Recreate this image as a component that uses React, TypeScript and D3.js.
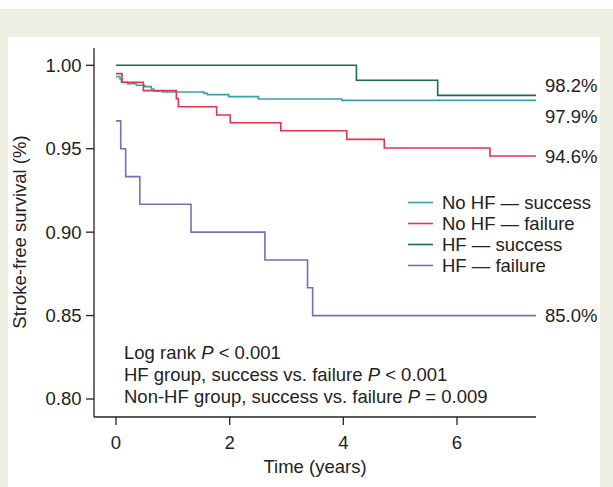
import React from "react";
import * as d3 from "d3";

const seriesNames = ["No HF — success", "No HF — failure", "HF — success", "HF — failure"];
const seriesColors = ["#3a9fa6", "#e5334b", "#1f6a4f", "#7c6cb8"];

const noHfSuccessT = [0, 0.07, 0.094, 0.199, 0.357, 0.505, 0.621, 0.664, 0.815, 1.549, 1.607, 1.984, 2.505, 3.974];
const noHfSuccessS = [0.9932, 0.9918, 0.9898, 0.989, 0.988, 0.9872, 0.9858, 0.9846, 0.984, 0.9832, 0.9824, 0.9812, 0.9798, 0.979];

const noHfFailureT = [0, 0.106, 0.481, 1.062, 1.097, 1.77, 2.01, 2.9, 4.06, 4.72, 6.58];
const noHfFailureS = [0.995, 0.9898, 0.9848, 0.98, 0.9752, 0.9702, 0.9656, 0.9608, 0.9556, 0.9504, 0.9456];

const hfSuccessT = [0, 4.23, 5.66];
const hfSuccessS = [1.0, 0.991, 0.982];

const hfFailureT = [0, 0.083, 0.17, 0.42, 1.32, 2.62, 3.37, 3.46];
const hfFailureS = [0.9667, 0.95, 0.9333, 0.9167, 0.9, 0.8833, 0.8667, 0.85];

const endLabels = ["97.9%", "94.6%", "98.2%", "85.0%"];
const endTime = 7.39;

const yTicks = [0.8, 0.85, 0.9, 0.95, 1.0];
const xTicks = [0, 2, 4, 6];

const FONT = "'Liberation Sans', Arial, Helvetica, sans-serif";
const FS = 18.5;

export default function App() {
  const x = d3.scaleLinear().domain([0, endTime]).range([116, 536]);
  const y = d3.scaleLinear().domain([0.8, 1.0]).range([399, 65.3]);
  const axisLeft = 94;
  const axisBottom = 417;
  const axisTop = 48;

  const series = [
    { t: noHfSuccessT, s: noHfSuccessS, labelDy: 16 },
    { t: noHfFailureT, s: noHfFailureS, labelDy: 0 },
    { t: hfSuccessT, s: hfSuccessS, labelDy: -10 },
    { t: hfFailureT, s: hfFailureS, labelDy: 0 },
  ];

  const line = d3
    .line<[number, number]>()
    .x((d) => x(d[0]))
    .y((d) => y(d[1]))
    .curve(d3.curveStepAfter);

  const textColor = "#222";

  return (
    <svg
      width={613}
      height={487}
      style={{ position: "absolute", left: 0, top: 0 }}
      fontFamily={FONT}
    >
      <rect x={0} y={0} width={613} height={487} fill="#efeee3" />
      <rect x={0} y={0} width={613} height={9} fill="#ffffff" />
      <rect x={8} y={37} width={592} height={450} fill="#ffffff" />

      {series.map((sr, i) => {
        const pts: [number, number][] = sr.t.map((t, j) => [t, sr.s[j]]);
        pts.push([endTime, sr.s[sr.s.length - 1]]);
        return (
          <path
            key={i}
            d={line(pts) || ""}
            fill="none"
            stroke={seriesColors[i]}
            strokeWidth={1.6}
          />
        );
      })}

      {series.map((sr, i) => (
        <text
          key={"l" + i}
          x={545}
          y={y(sr.s[sr.s.length - 1]) + sr.labelDy}
          dy="0.35em"
          fontSize={FS}
          fill={textColor}
        >
          {endLabels[i]}
        </text>
      ))}

      <line x1={axisLeft} x2={axisLeft} y1={axisTop} y2={axisBottom} stroke="#222" strokeWidth={1.3} />
      <line x1={axisLeft} x2={536} y1={axisBottom} y2={axisBottom} stroke="#222" strokeWidth={1.3} />
      {yTicks.map((v) => (
        <g key={"y" + v}>
          <line x1={axisLeft - 8} x2={axisLeft} y1={y(v)} y2={y(v)} stroke="#222" strokeWidth={1.3} />
          <text x={81.5} y={y(v)} dy="0.35em" textAnchor="end" fontSize={FS} fill={textColor}>
            {v.toFixed(2)}
          </text>
        </g>
      ))}
      {xTicks.map((v) => (
        <g key={"x" + v}>
          <line x1={x(v)} x2={x(v)} y1={axisBottom} y2={axisBottom + 8} stroke="#222" strokeWidth={1.3} />
          <text x={x(v)} y={443} dy="0.35em" textAnchor="middle" fontSize={FS} fill={textColor}>
            {v}
          </text>
        </g>
      ))}
      <text x={315} y={467} dy="0.35em" textAnchor="middle" fontSize={FS} fill={textColor}>
        Time (years)
      </text>
      <text
        transform={`translate(20,${232}) rotate(-90)`}
        dy="0.35em"
        textAnchor="middle"
        fontSize={FS}
        fill={textColor}
      >
        Stroke-free survival (%)
      </text>

      {seriesNames.map((n, i) => (
        <g key={"lg" + i} transform={`translate(0,${202.5 + i * 21})`}>
          <line x1={408} x2={433} y1={0} y2={0} stroke={seriesColors[i]} strokeWidth={1.6} />
          <text x={442} y={0} dy="0.35em" fontSize={FS} fill={textColor}>
            {n}
          </text>
        </g>
      ))}

      <text x={124} y={353} dy="0.35em" fontSize={FS} fill={textColor}>
        Log rank <tspan fontStyle="italic">P</tspan> {"< 0.001"}
      </text>
      <text x={124} y={375} dy="0.35em" fontSize={FS} fill={textColor}>
        HF group, success vs. failure <tspan fontStyle="italic">P</tspan> {"< 0.001"}
      </text>
      <text x={124} y={397} dy="0.35em" fontSize={FS} fill={textColor}>
        Non-HF group, success vs. failure <tspan fontStyle="italic">P</tspan> = 0.009
      </text>
    </svg>
  );
}
